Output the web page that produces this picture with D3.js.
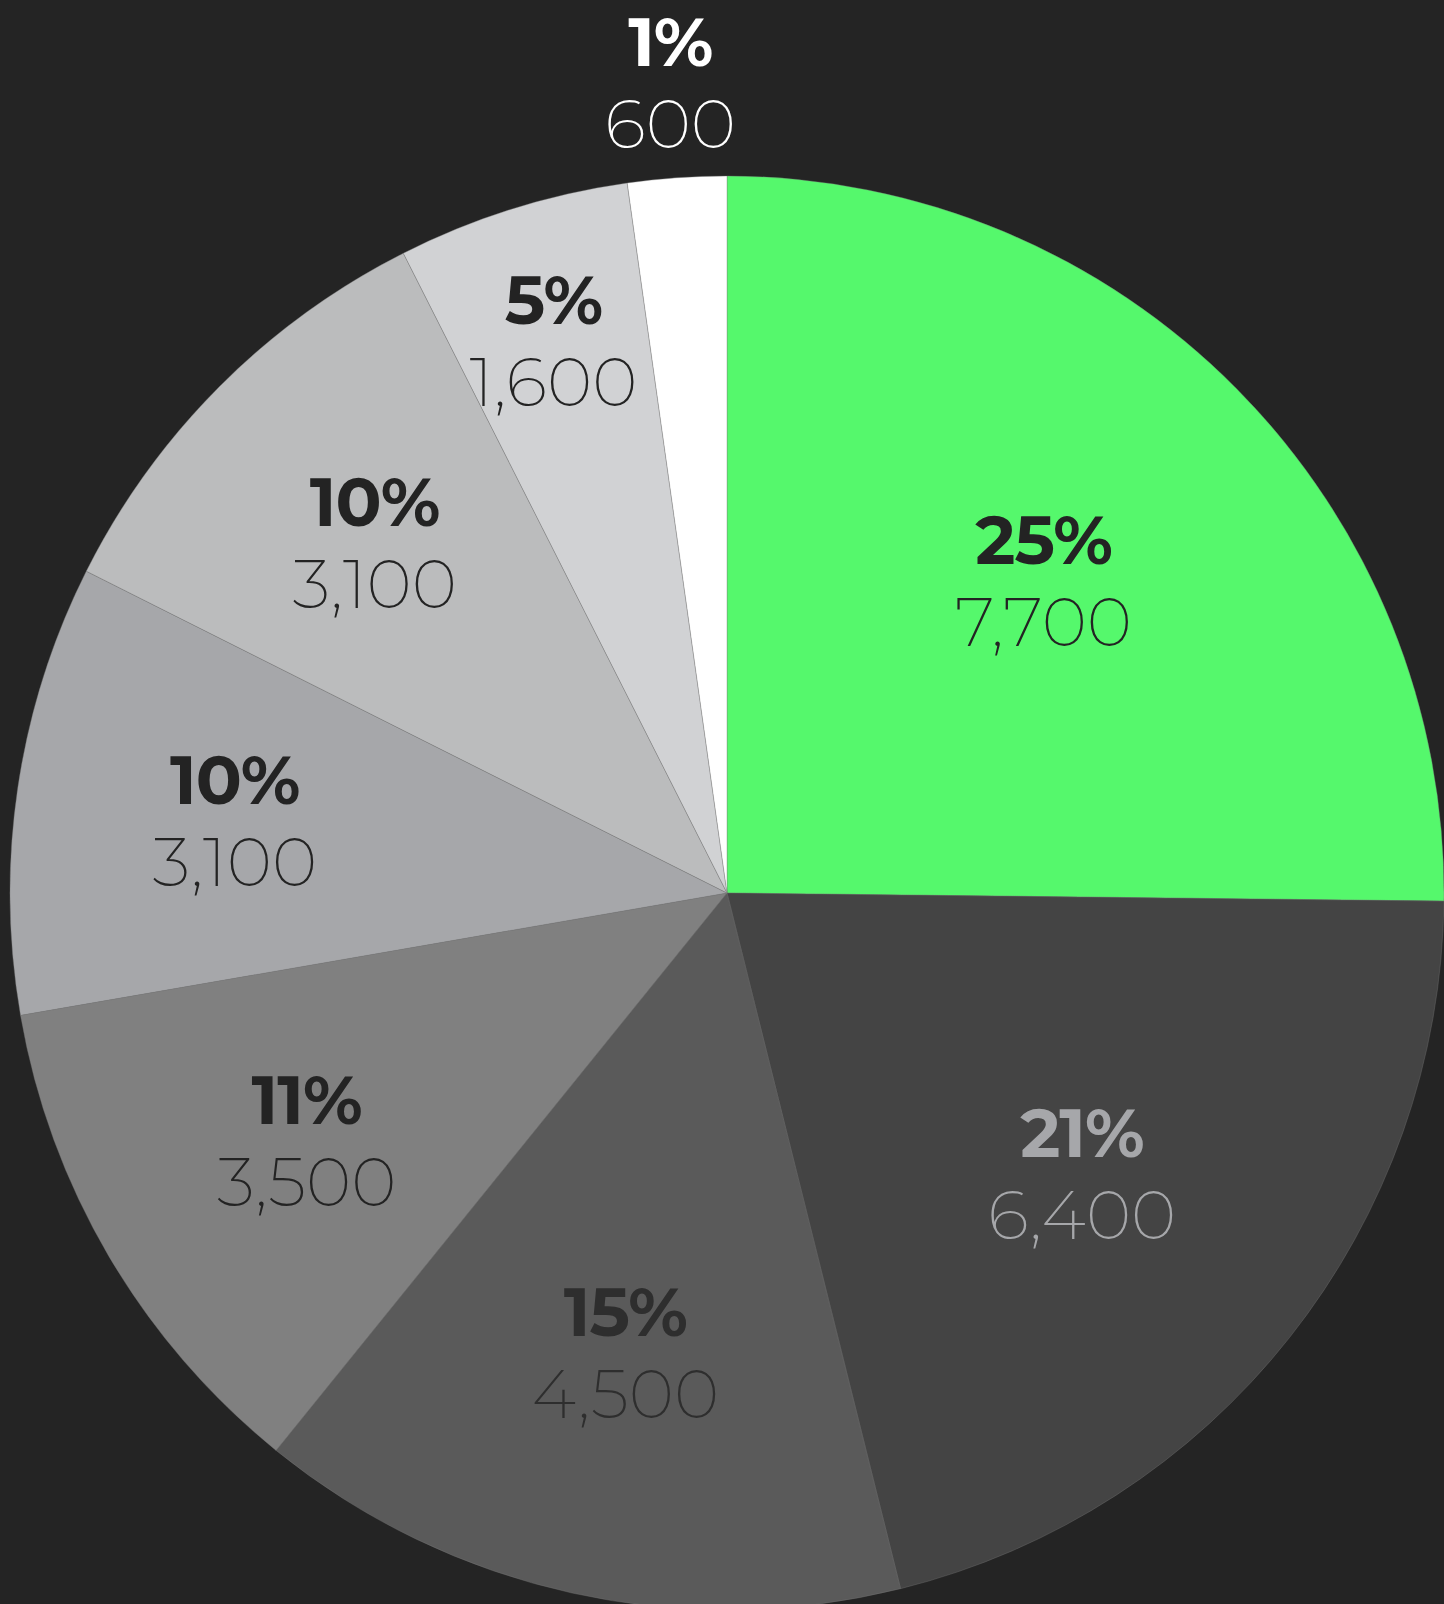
<!DOCTYPE html>
<html>
<head>
<meta charset="utf-8">
<script src="https://cdn.jsdelivr.net/npm/d3@7"></script>
<style>
  html, body { margin: 0; padding: 0; background: #242424; }
  svg { display: block; }
  .pct { font-family: "Montserrat", "Inter", "DejaVu Sans", sans-serif; font-weight: 700; }
  .val { font-family: "Montserrat", "Inter", "DejaVu Sans", sans-serif; font-weight: 200; }
</style>
</head>
<body>
<svg id="chart"></svg>
<script>
// ---- data ----
const categories = ["A", "B", "C", "D", "E", "F", "G", "H"];
const values = [7700, 6400, 4500, 3500, 3100, 3100, 1600, 600];
const percentLabels = ["25%", "21%", "15%", "11%", "10%", "10%", "5%", "1%"];
const sliceColors = ["#55f86c", "#444444", "#5a5a5a", "#808080", "#a6a7aa", "#bbbcbd", "#d1d2d4", "#ffffff"];
const labelColors = ["#232323", "#a6a7aa", "#2e2e2e", "#232323", "#232323", "#232323", "#232323", "#ffffff"];

const W = 1444, H = 1604;
const cx = 727, cy = 893, R = 717;
const minAngle = 8 * Math.PI / 180;   // smallest slice drawn at least this wide

const svg = d3.select("#chart").attr("width", W).attr("height", H);
svg.append("rect").attr("width", W).attr("height", H).attr("fill", "#242424");

const data = categories.map((c, i) => ({ cat: c, value: values[i], pct: percentLabels[i], fill: sliceColors[i], tc: labelColors[i] }));

// minimum-angle handling (like a pie "minAngle" option)
const total = d3.sum(values);
const small = data.filter(d => d.value / total * 2 * Math.PI < minAngle);
const largeSum = d3.sum(data.filter(d => !small.includes(d)), d => d.value);
const smallWeight = minAngle / (2 * Math.PI - small.length * minAngle) * largeSum;

const pie = d3.pie().sort(null).value(d => small.includes(d) ? smallWeight : d.value);
const arcs = pie(data);

const arc = d3.arc().innerRadius(0).outerRadius(R);
const g = svg.append("g").attr("transform", `translate(${cx},${cy})`);

g.selectAll("path").data(arcs).join("path")
  .attr("d", arc)
  .attr("fill", d => d.data.fill)
  .attr("stroke", "rgba(120,120,120,0.45)")
  .attr("stroke-width", 0.8);

// label radius: narrow slices push labels outward; tiny slices go outside
function labelRadius(d) {
  const deg = (d.endAngle - d.startAngle) * 180 / Math.PI;
  if (deg < 12) return R + 96;
  return R * (0.5716 + 4.469 / deg);
}

const labels = g.selectAll("g.lbl").data(arcs).join("g")
  .attr("class", "lbl")
  .attr("transform", d => {
    const a = (d.startAngle + d.endAngle) / 2;
    const r = labelRadius(d);
    return `translate(${r * Math.sin(a)},${-r * Math.cos(a)})`;
  });

labels.append("text").attr("class", "pct")
  .attr("text-anchor", "middle")
  .attr("y", -16)
  .attr("font-size", 68)
  .attr("letter-spacing", -1)
  .attr("fill", d => d.data.tc)
  .text(d => d.data.pct);

labels.append("text").attr("class", "val")
  .attr("text-anchor", "middle")
  .attr("y", 66)
  .attr("font-size", 69)
  .attr("fill", d => d.data.tc)
  .text(d => d3.format(",")(d.data.value));
</script>
</body>
</html>
